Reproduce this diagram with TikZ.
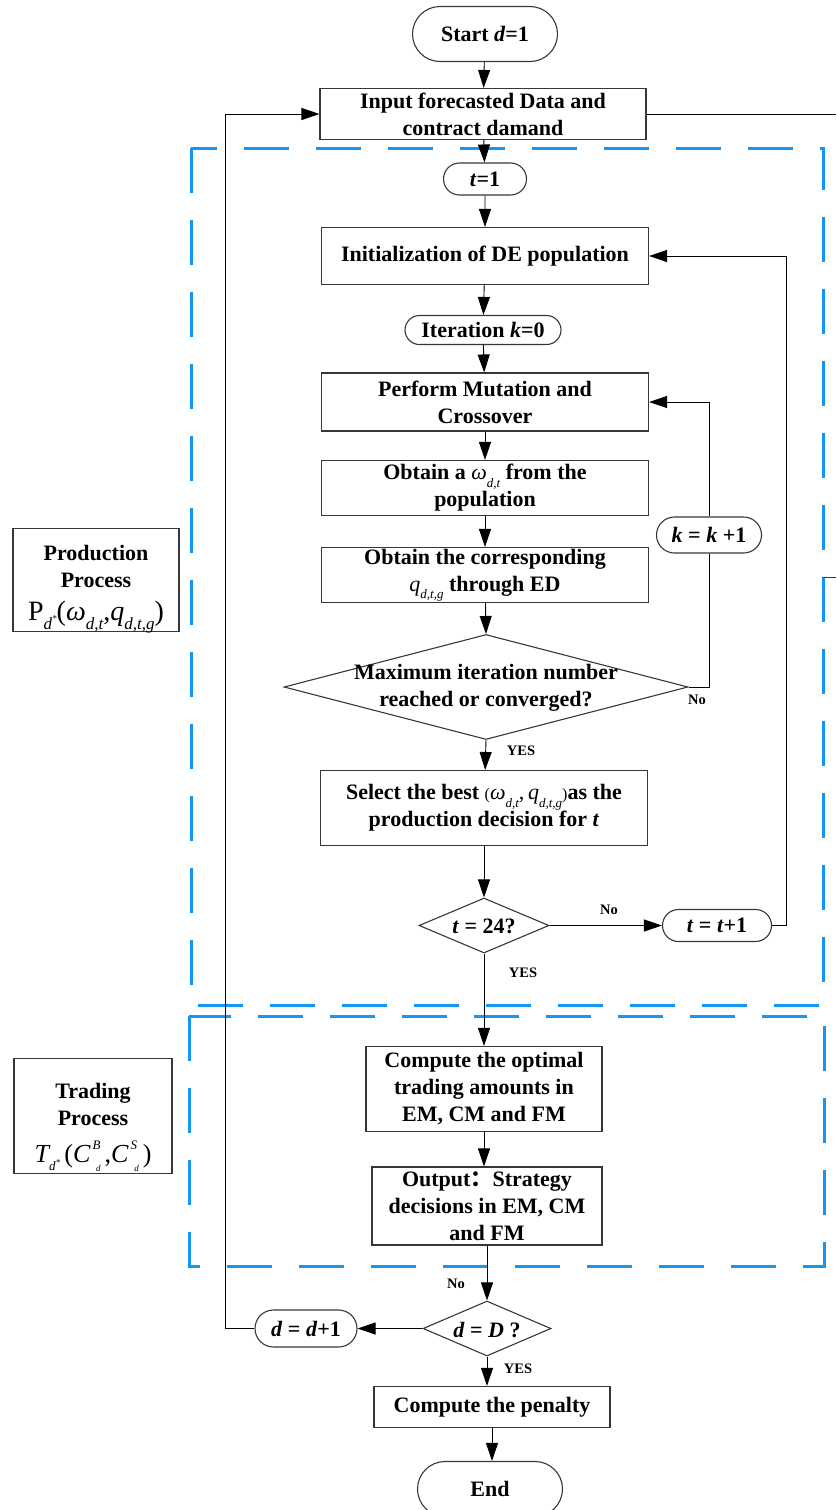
\documentclass[tikz,border=0pt]{standalone}
\usepackage{fontspec}
\setmainfont{Liberation Serif}
\newfontfamily\cjk{Noto Sans CJK SC}
\usetikzlibrary{arrows.meta,shapes.geometric,shapes.misc}

\definecolor{procblue}{RGB}{20,150,245}
\definecolor{edge}{RGB}{55,55,55}

% small italic indices placed below / above the base line
\newcommand\lowi[1]{\raisebox{-0.34em}{\fontsize{13}{13}\selectfont\mdseries\itshape #1}}
\newcommand\lowb[1]{\raisebox{-0.3em}{\fontsize{17}{17}\selectfont\mdseries\itshape #1}}
\newcommand\highi[1]{\raisebox{0.62em}{\fontsize{13}{13}\selectfont\mdseries\itshape #1}}
\newcommand\wdt{{\mdseries\itshape ω}\lowi{d,t}}
\newcommand\qdtg{{\mdseries\itshape q}\lowi{d,t,g}}
\newcommand\hstar{\raisebox{0.45em}{\fontsize{9}{9}\selectfont *}}
\newcommand\supsub[2]{\makebox[0.55em][l]{\raisebox{0.5em}{\fontsize{13}{13}\selectfont\mdseries\itshape\,#1}}\llap{\raisebox{-0.35em}{\fontsize{9}{9}\selectfont\mdseries\itshape #2}\hspace{0.15em}}}

\begin{document}
\begin{tikzpicture}[x=1pt,y=-1pt,
  txt/.style={font=\fontsize{22}{27}\selectfont\bfseries, align=center, inner sep=0pt},
  procbox/.style={txt, draw=edge, line width=1.1pt, rectangle},
  termbox/.style={txt, draw=edge, line width=1.1pt, rounded rectangle},
  decide/.style={draw=edge, line width=1.1pt, diamond, inner sep=0pt},
  tag/.style={font=\fontsize{14.5}{16}\selectfont\bfseries, inner sep=0pt},
  flow/.style={draw=black, line width=0.9pt, -{Triangle[length=18pt,width=12pt]}},
  wire/.style={draw=black, line width=0.9pt},
  region/.style={draw=procblue, line width=3pt, dash pattern=on 45pt off 27pt},
]
\useasboundingbox (0,0) rectangle (836,1510);

% process regions
\draw[region] (191,148) rectangle (823,1005);
\draw[region] (189,1016) rectangle (824,1266);

% side captions
\node[procbox, minimum width=166pt, minimum height=103pt] (prodcap) at (96,580) {};
\node[txt] (prodtext) at (96,589)
  {Production\\Process\\[6pt]{\fontsize{28}{30}\selectfont\mdseries P\lowb{d\hstar}(\itshape ω\lowb{d,t}\upshape,\itshape q\lowb{d,t,g}\upshape)}};
\node[procbox, minimum width=158pt, minimum height=115pt] (tradecap) at (93,1116) {};
\node[txt] (tradetext) at (93,1127)
  {Trading\\Process\\[10pt]{\fontsize{26}{28}\selectfont\mdseries\itshape T\lowi{d\hstar}\,\upshape(\itshape C\supsub{B}{d}\upshape,\itshape C\supsub{S}{d}\upshape)}};

% main flow
\node[termbox, minimum width=145pt, minimum height=55pt] (start) at (485,34) {Start \textit{d}=1};
\node[procbox, minimum width=326pt, minimum height=51pt] (input) at (483,114) {Input forecasted Data and\\contract damand};
\node[termbox, minimum width=83pt, minimum height=32pt] (tone) at (485,179) {\textit{t}=1};
\node[procbox, minimum width=327pt, minimum height=57pt] (init) at (485,256) {Initialization of DE population};
\node[termbox, minimum width=156pt, minimum height=29pt] (iter) at (483,330) {Iteration \textit{k}=0};
\node[procbox, minimum width=327pt, minimum height=58pt] (mut) at (485,402) {Perform Mutation and\\Crossover};
\node[procbox, minimum width=327pt, minimum height=55pt] (omega) at (485,488) {Obtain a \wdt\ from the\\population};
\node[procbox, minimum width=327pt, minimum height=55pt] (qobt) at (485,575) {Obtain the corresponding\\\qdtg\ through ED};
\node[decide, minimum width=404pt, minimum height=105pt] (conv) at (486,687) {};
\node[txt] (convtext) at (486,688) {Maximum iteration number\\reached or converged?};
\node[termbox, minimum width=105pt, minimum height=36pt] (kinc) at (709,535) {\textit{k} = \textit{k} +1};
\node[procbox, minimum width=327pt, minimum height=75pt] (select) at (484,808)
  {Select the best {\mdseries\fontsize{16}{16}\selectfont(}\wdt{\mdseries,}\,\qdtg{\mdseries\fontsize{16}{16}\selectfont)}as the\\production decision for \textit{t}};
\node[decide, minimum width=130pt, minimum height=55pt] (tend) at (484,925.5) {};
\node[txt] (tendtext) at (484,926) {\textit{t} = 24?};
\node[termbox, minimum width=109pt, minimum height=32pt] (tinc) at (717,925.5) {\textit{t} = \textit{t}+1};
\node[procbox, minimum width=236pt, minimum height=85pt] (trade) at (484,1089) {Compute the optimal\\trading amounts in\\EM, CM and FM};
\node[procbox, minimum width=230pt, minimum height=78pt] (outp) at (487,1206) {Output{\cjk ：}Strategy\\decisions in EM, CM\\and FM};
\node[decide, minimum width=128pt, minimum height=55pt] (dend) at (487,1328.5) {};
\node[txt] (dendtext) at (487,1330) {\textit{d} = \textit{D} ?};
\node[termbox, minimum width=102pt, minimum height=37pt] (dinc) at (306,1328.5) {\textit{d} = \textit{d}+1};
\node[procbox, minimum width=236pt, minimum height=41pt] (penalty) at (492,1407) {Compute the penalty};
\node[termbox, minimum width=145pt, minimum height=55pt] (finish) at (490,1489) {End};

% branch labels
\node[tag] (yesconv) at (521,751) {YES};
\node[tag] (noconv) at (697,700) {No};
\node[tag] (notend) at (609,910) {No};
\node[tag] (yestend) at (523,973) {YES};
\node[tag] (nodend) at (456,1284) {No};
\node[tag] (yesdend) at (518,1369) {YES};

% bend points of the loops and lines leaving the frame
\coordinate (ploop) at (786,925.5);
\coordinate (dloop) at (225,1328.5);
\coordinate (exitin) at (836,114);
\coordinate (stubA) at (823,577);
\coordinate (stubB) at (836,577);

% connectors
\draw[flow] (start) -- (input);
\draw[flow] (input) -- (tone);
\draw[flow] (tone) -- (init);
\draw[flow] (init) -- (iter);
\draw[flow] (iter) -- (mut);
\draw[flow] (mut) -- (omega);
\draw[flow] (omega) -- (qobt);
\draw[flow] (qobt) -- (conv.north);
\draw[flow] (conv.south) -- (select);
\draw[flow] (select) -- (tend.north);
\draw[flow] (tend.east) -- (tinc.west);
\draw[flow] (tinc.east) -- (ploop) |- (init.east);
\draw[wire] (conv.east) -| (kinc.south);
\draw[flow] (kinc.north) |- (mut.east);
\draw[flow] (tend.south) -- (trade.north);
\draw[flow] (trade.south) -- (trade.south |- outp.north);
\draw[flow] (outp.south) -- (dend.north);
\draw[flow] (dend.west) -- (dinc.east);
\draw[flow] (dinc.west) -- (dloop) |- (input.west);
\draw[flow] (dend.south) -- (dend.south |- penalty.north);
\draw[flow] (penalty.south) -- (penalty.south |- finish.north);
\draw[wire] (input.east) -- (exitin);
\draw[draw=edge, line width=0.9pt] (stubA) -- (stubB);
\end{tikzpicture}
\end{document}
